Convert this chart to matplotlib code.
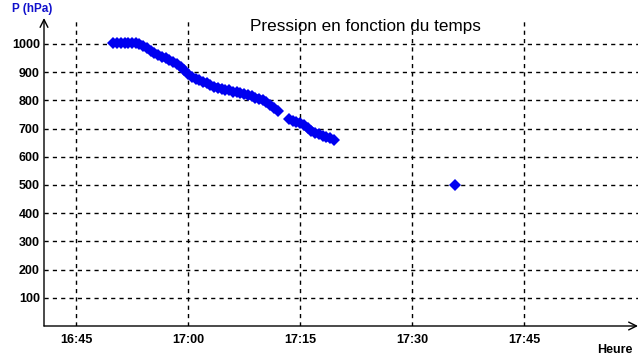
import matplotlib
matplotlib.use("Agg")
import matplotlib.pyplot as plt
import matplotlib.dates as mdates
import pandas as pd

# pressure readings (time of day, hPa); None = no reading recorded
TIMES = ["16:50:00", "16:50:30", "16:51:00", "16:51:30", "16:52:00", "16:52:30",
         "16:53:00", "16:53:30", "16:54:00", "16:54:30", "16:55:00", "16:55:30",
         "16:56:00", "16:56:30", "16:57:00", "16:57:30", "16:58:00", "16:58:30",
         "16:59:00", "16:59:30", "17:00:00", "17:00:30", "17:01:00", "17:01:30",
         "17:02:00", "17:02:30", "17:03:00", "17:03:30", "17:04:00", "17:04:30",
         "17:05:00", "17:05:30", "17:06:00", "17:06:30", "17:07:00", "17:07:30",
         "17:08:00", "17:08:30", "17:09:00", "17:09:30", "17:10:00", "17:10:30",
         "17:11:00", "17:11:30", "17:12:00", "17:12:45",
         "17:13:30", "17:14:00", "17:14:30", "17:15:00", "17:15:30", "17:16:00",
         "17:16:30", "17:17:00", "17:17:30", "17:18:00", "17:18:30", "17:19:00",
         "17:19:30", "17:27:00",
         "17:35:45"]
PRESSURE = [1005, 1005, 1005, 1005, 1005, 1005,
            1005, 1001, 993, 985, 976, 969,
            962, 955, 949, 943, 937, 929,
            918, 906, 893, 884, 877, 872,
            866, 860, 854, 849, 845, 841,
            838, 835, 831, 828, 826, 822,
            818, 814, 810, 806, 800, 793,
            784, 774, 764, None,
            734, 728, 724, 719, 712, 702,
            693, 686, 680, 675, 670, 665,
            661, None,
            500]

X_TICKS = ["16:45", "17:00", "17:15", "17:30", "17:45"]
Y_TICKS = [100, 200, 300, 400, 500, 600, 700, 800, 900, 1000]

DAY = "2000-01-01 "
FONT = ["Liberation Sans", "DejaVu Sans"]
BLUE = "#0000f0"


def to_dt(values):
    return pd.to_datetime([DAY + v for v in values])


x = to_dt(TIMES)
xt = to_dt(X_TICKS)
y = [float("nan") if v is None else v for v in PRESSURE]

fig = plt.figure(figsize=(6.4, 3.6), dpi=100)
ax = fig.add_axes([44 / 640, 34 / 360, 594 / 640, 308 / 360])

ax.plot(x, y, linestyle="-", linewidth=5.3, color=BLUE, solid_capstyle="butt",
        marker="D", markersize=6, markeredgewidth=0)

ax.set_xlim(pd.Timestamp(DAY + "16:40:43"), pd.Timestamp(DAY + "18:00:14"))
ax.set_ylim(0, 1092)

ax.set_xticks(xt)
ax.xaxis.set_major_formatter(mdates.DateFormatter("%H:%M"))
ax.set_yticks(Y_TICKS)

ax.grid(True, color="black", linestyle=(0, (3, 3)), linewidth=1)
ax.set_axisbelow(True)
ax.tick_params(length=0)
ax.tick_params(axis="y", pad=3)
ax.tick_params(axis="x", pad=6)
for lab in ax.get_xticklabels() + ax.get_yticklabels():
    lab.set_fontweight("bold")
    lab.set_fontsize(9)
    lab.set_family(FONT)

for s in ax.spines.values():
    s.set_visible(False)

# axes with open arrow heads
ax.annotate("", xy=(0, 1), xytext=(0, 0), xycoords="axes fraction",
            arrowprops=dict(arrowstyle="->", lw=1, color="black", mutation_scale=14,
                            shrinkA=0, shrinkB=0), annotation_clip=False)
ax.annotate("", xy=(1, 0), xytext=(0, 0), xycoords="axes fraction",
            arrowprops=dict(arrowstyle="->", lw=1, color="black", mutation_scale=14,
                            shrinkA=0, shrinkB=0), annotation_clip=False)

fig.text(12 / 640, 1 - 9 / 360, "P (hPa)", color="#1010cc", fontsize=8.5, fontweight="bold",
         family=FONT, va="center", ha="left")
fig.text(632 / 640, 1 - 350 / 360, "Heure", color="black", fontsize=9, fontweight="bold",
         family=FONT, va="center", ha="right")
fig.text(365 / 640, 1 - 27 / 360, "Pression en fonction du temps", color="black",
         fontsize=12.3, family=FONT, va="center", ha="center")

fig.savefig("out.png", dpi=100)
